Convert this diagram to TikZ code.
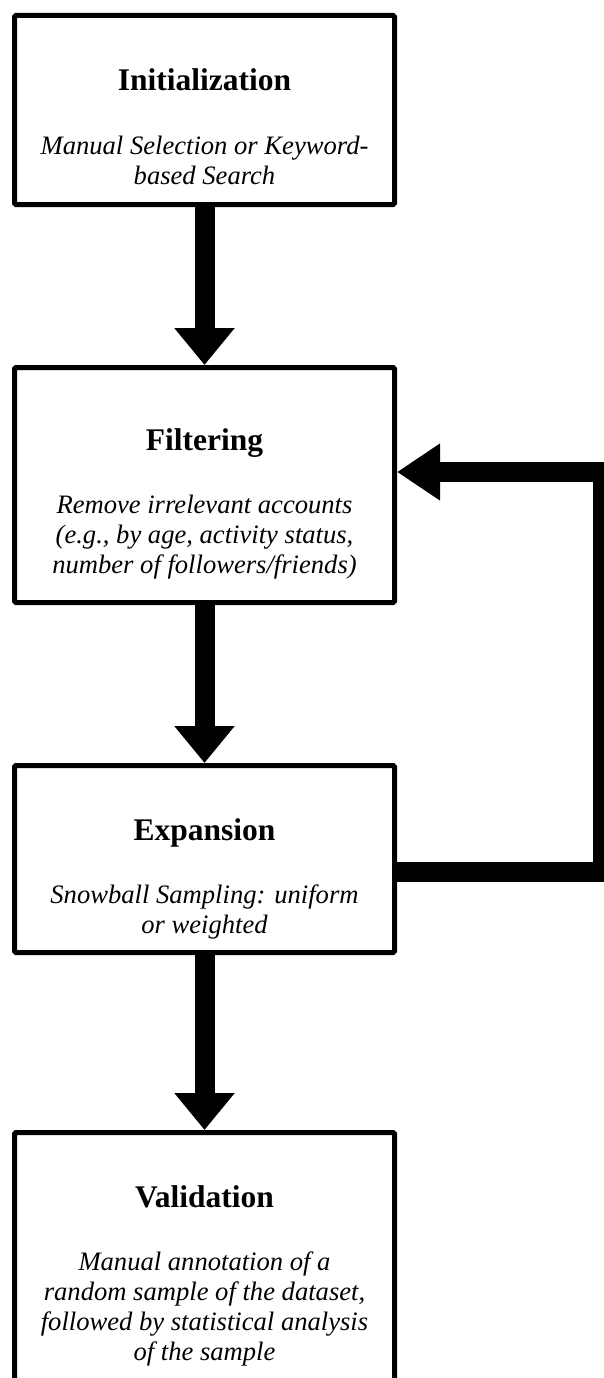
\documentclass[tikz,border=0pt]{standalone}
\usepackage{fontspec}
\setmainfont{Liberation Serif}
\usetikzlibrary{arrows.meta,positioning}

\begin{document}
\begin{tikzpicture}[x=1pt,y=-1pt,
  stage/.style={draw, line width=5pt, rounded corners=1.5pt, minimum width=380pt, inner sep=0pt},
  stagetitle/.style={font=\fontsize{31.5}{36}\selectfont\bfseries, anchor=base, inner sep=0pt},
  stagenote/.style={font=\fontsize{26.6}{30}\selectfont\itshape, align=center, inner sep=0pt},
  bigarrow/.style={line width=20pt, -{Triangle[length=37pt,width=58pt]}},
  looparrow/.style={line width=20pt, -{Triangle[length=43pt,width=54pt]}}]

\useasboundingbox (0,0) rectangle (603,1378);

% boxes
\node[stage, minimum height=189pt] (init)  at (204.5,110)   {};
\node[stage, minimum height=235pt] (filt)  at (204.5,485)   {};
\node[stage, minimum height=187pt] (expn)  at (204.5,859)   {};
\node[stage, minimum height=300pt] (valid) at (204.5,1282.5) {};

% titles and notes
\node[stagetitle] (initT)  at (204.5,91)   {Initialization};
\node[stagenote, below=42pt of initT.base] (initN) {\strut Manual Selection or Keyword-\\based Search};

\node[stagetitle] (filtT)  at (204.5,450)  {Filtering};
\node[stagenote, below=42pt of filtT.base] (filtN) {\strut Remove irrelevant accounts\\(e.g., by age, activity status,\\number of followers/friends)};

\node[stagetitle] (expnT)  at (204.5,840)  {Expansion};
\node[stagenote, below=42pt of expnT.base] (expnN) {\strut Snowball Sampling: uniform\\or weighted};

\node[stagetitle] (validT) at (204.5,1207) {Validation};
\node[stagenote, below=42pt of validT.base] (validN) {\strut Manual annotation of a\\random sample of the dataset,\\followed by statistical analysis\\of the sample};

% arrows
\draw[bigarrow] (init) -- (filt);
\draw[bigarrow] (filt) -- (expn);
\draw[bigarrow] (expn) -- (valid);

% feedback loop
\coordinate (loopB) at (603,872);
\coordinate (loopT) at (603,472);
\draw[looparrow] (expn.east |- loopB) -- (loopB) -- (loopT) -- (filt.east |- loopT);
\end{tikzpicture}
\end{document}
